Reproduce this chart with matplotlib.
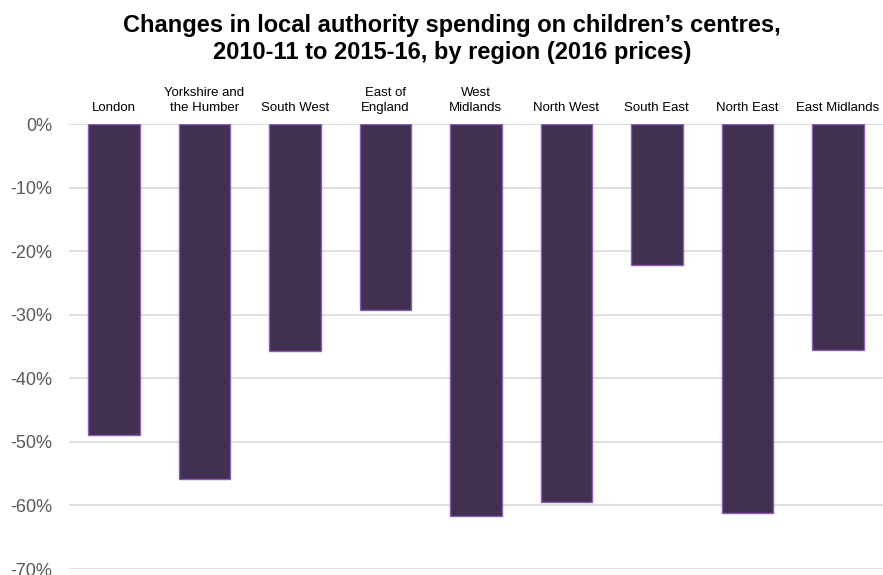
import numpy as np
import matplotlib
matplotlib.use("Agg")
import matplotlib.pyplot as plt
from matplotlib.ticker import FuncFormatter

plt.rcParams['font.family'] = ['Liberation Sans', 'DejaVu Sans']

# Regions and percentage change in spending
regions = ['London', 'Yorkshire and\nthe Humber', 'South West', 'East of\nEngland', 'West\nMidlands',
           'North West', 'South East', 'North East', 'East Midlands']
change = [-48.9, -55.8, -35.7, -29.2, -61.6, -59.4, -22.2, -61.2, -35.5]

fig = plt.figure(figsize=(8.83, 5.75), dpi=100)
ax = fig.add_axes([0.078, 0.0104, 0.922, 0.7739])

x = np.arange(len(regions))
ax.bar(x, change, width=0.57, color='#41304f', edgecolor='#8a5cb8', linewidth=1.0, zorder=3)

ax.set_xlim(-0.5, len(regions) - 0.5)
ax.set_ylim(-70, 0)
ax.set_yticks(np.arange(-70, 1, 10))
ax.yaxis.set_major_formatter(FuncFormatter(lambda v, p: f'{v:.0f}%'))
ax.grid(axis='y', color='#d9d9d9', linewidth=1.2, zorder=0)

ax.xaxis.tick_top()
ax.set_xticks(x)
ax.set_xticklabels(regions, fontsize=9.5, color='black', linespacing=1.35)
ax.tick_params(axis='x', length=0, pad=7)
ax.tick_params(axis='y', length=0, pad=12, labelsize=13, labelcolor='#595959')
for lbl in ax.get_yticklabels():
    lbl.set_clip_on(False)

for s in ax.spines.values():
    s.set_visible(False)

fig.text(0.512, 0.976, 'Changes in local authority spending on children\u2019s centres,\n2010-11 to 2015-16, by region (2016 prices)',
         ha='center', va='top', fontsize=17, fontweight='bold', linespacing=1.25)

fig.savefig('out.png', dpi=100)
